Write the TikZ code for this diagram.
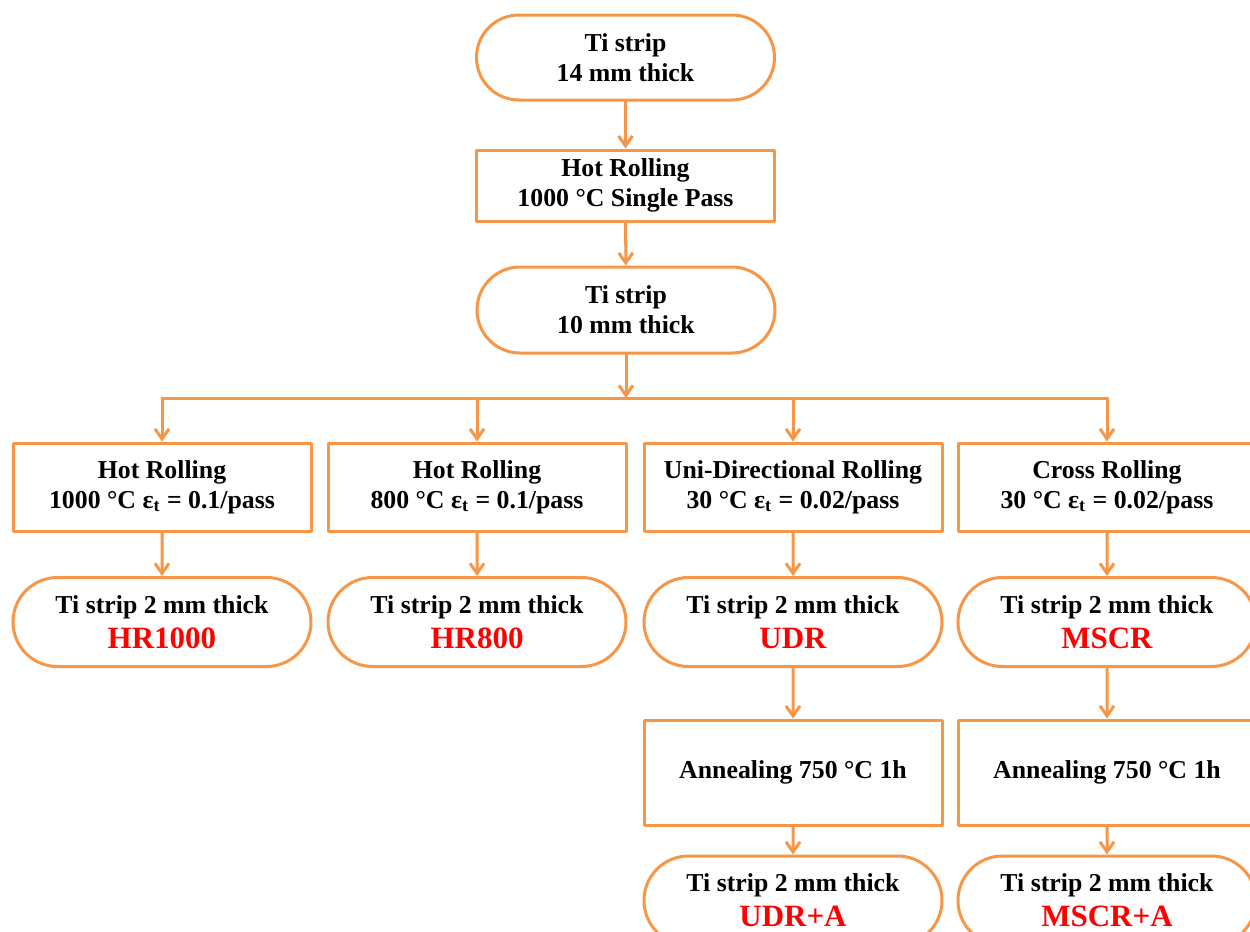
\documentclass[tikz,border=0pt]{standalone}
\usepackage{fontspec}
\setmainfont{Liberation Serif}
\usetikzlibrary{shapes.misc,arrows.meta}
\definecolor{flow}{HTML}{F79646}
\newcommand{\grade}[1]{\\[2.5pt]{\color{red}\fontsize{15.5}{18}\selectfont #1}}

\begin{document}
\begin{tikzpicture}[x=0.5pt, y=-0.5pt, font=\fontsize{12.9}{15}\selectfont\bfseries, line join=round, line cap=round, >={Straight Barb[length=5pt,width=7pt]},
	pill/.style={rounded rectangle, draw=flow, line width=1.5pt, fill=white, align=center, minimum width=149pt, minimum height=44.5pt, inner sep=0pt},
	stepbox/.style={rectangle, draw=flow, line width=1.5pt, fill=white, align=center, minimum width=149pt, minimum height=44pt, inner sep=0pt},
	link/.style={draw=flow, line width=1.5pt}]
	\clip (0,0) rectangle (1250,932);
	\fill[white] (0,0) rectangle (1250,932);
	% trunk
	\node[pill, minimum height=42.5pt] (ti14) at (625.5,57.5) {Ti strip\\14 mm thick};
	\node[stepbox, minimum height=35.5pt] (hot) at (625.5,185.5) {Hot Rolling\\1000 °C Single Pass};
	\node[pill, minimum height=43pt] (ti10) at (626,310) {Ti strip\\10 mm thick};
	\coordinate (split) at (626,398);
	% four routes
	\foreach \n/\x/\t/\r/\e/\g in {hr1000/162/Hot Rolling/1000/0.1/HR1000, hr800/477/Hot Rolling/800/0.1/HR800, udr/793/Uni-Directional Rolling/30/0.02/UDR, mscr/1107/Cross Rolling/30/0.02/MSCR}{
		\node[stepbox] (\n) at (\x,487) {\t\\\r{} °C ε\textsubscript{t} = \e/pass};
		\node[pill] (\n-strip) at (\x,622) {Ti strip 2 mm thick\grade{\g}};
	}
	% annealed
	\foreach \n/\g in {udr/UDR+A, mscr/MSCR+A}{
		\node[stepbox, minimum height=52.5pt] (\n-ann) at (\n-strip |- 0,772.5) {Annealing 750 °C 1h};
		\node[pill] (\n-fin) at (\n-strip |- 0,900.5) {Ti strip 2 mm thick\grade{\g}};
	}
	\draw[link,->] (ti14) -- (hot);
	\draw[link,->] (hot) -- (ti10);
	\draw[link,->] (ti10) -- (split);
	\draw[link] (split -| hr1000) -- (split -| mscr);
	\foreach \n in {hr1000,hr800,udr,mscr}{
		\draw[link,->] (split -| \n) -- (\n);
		\draw[link,->] (\n) -- (\n-strip);
	}
	\foreach \n in {udr,mscr}{
		\draw[link,->] (\n-strip) -- (\n-ann);
		\draw[link,->] (\n-ann) -- (\n-fin);
	}
\end{tikzpicture}
\end{document}
